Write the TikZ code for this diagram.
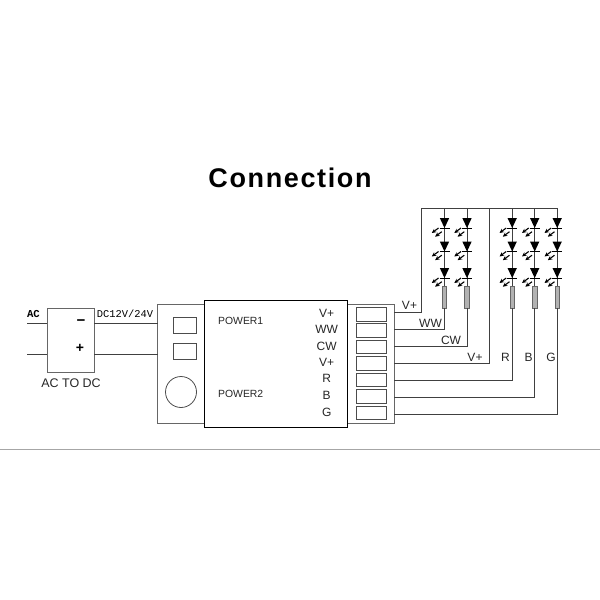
\documentclass[tikz,border=0pt]{standalone}
\usepackage{fontspec}
\setmainfont{Liberation Sans}
\newfontfamily\monofnt{Liberation Mono}
\usetikzlibrary{arrows.meta}
\tikzset{
  wire/.style={line width=.85pt,draw=black!75},
  plate/.style={draw=black!60,line width=.95pt,inner sep=0pt},
  term/.style={draw=black!70,line width=.8pt,inner sep=0pt,minimum width=30pt,minimum height=13.5pt},
  resistor/.style={draw=black!60,fill=black!30,line width=.7pt,inner sep=0pt,minimum width=4.5pt,minimum height=22pt},
  lbl/.style={inner sep=0pt,font=\fontsize{12}{12}\selectfont,text=black!85},
  pics/led/.style={code={
    \fill[black] (-4.7,0) -- (4.7,0) -- (0,10) -- cycle;
    \draw[black,line width=1pt] (-5,10.2) -- (5,10.2);
    \foreach \dx/\dy in {0/0,3.3/3.7}{
      \draw[-{Stealth[length=4.5pt,width=4.2pt]},black,line width=1.1pt] (-6+\dx,10+\dy) -- (-12.7+\dx,15+\dy);
    }
  }}
}
\begin{document}
\begin{tikzpicture}[x=1pt,y=-1pt]
   \useasboundingbox (0,0) rectangle (600,600);
   \draw[black!35,line width=.8pt] (0,449.5) -- (600,449.5);
   \node[inner sep=0pt] (title) at (290,178) {\fontsize{27}{27}\selectfont\bfseries\addfontfeature{LetterSpace=6}Connection};
   % converter
   \node[plate,minimum width=47pt,minimum height=64pt] (conv) at (70.5,340) {};
   \node[lbl,font=\fontsize{12.5}{12}\selectfont] (acdc) at (71,383) {AC TO DC};
   \node[inner sep=0pt,font=\bfseries\fontsize{15}{13}\selectfont] (minus) at (81,322.5) {\textminus};
   \node[inner sep=0pt,font=\bfseries\fontsize{14}{13}\selectfont] (plus) at (80,348) {+};
   \node[inner sep=0pt,font=\monofnt\bfseries\fontsize{10.6}{10}\selectfont] (ac) at (33.5,314) {AC};
   \node[inner sep=0pt,font=\monofnt\fontsize{10.4}{10}\selectfont] (dc) at (125,314) {DC12V/24V};
   % controller plates
   \node[plate,minimum width=47pt,minimum height=119pt] (plateL) at (181,363.5) {};
   \node[plate,minimum width=47pt,minimum height=119pt] (plateR) at (370.5,363.5) {};
   \node[draw=black,line width=.9pt,fill=white,inner sep=0pt,minimum width=143pt,minimum height=127pt] (ctrl) at (275.5,363.5) {};
   \node[term,minimum width=23pt,minimum height=16pt] (swa) at (184.5,325) {};
   \node[term,minimum width=23pt,minimum height=16pt] (swb) at (184.5,351) {};
   \node[draw=black!70,line width=.8pt,circle,inner sep=0pt,minimum size=31pt] (knob) at (181,392) {};
   \node[lbl,anchor=west,font=\fontsize{10.4}{10}\selectfont] (pwra) at (218,320.5) {POWER1};
   \node[lbl,anchor=west,font=\fontsize{10.4}{10}\selectfont] (pwrb) at (218,393.5) {POWER2};
   % terminals and their labels
   \foreach \i/\y/\t in {1/314.2/V+,2/330.5/WW,3/347/CW,4/363.5/V+,5/379.8/R,6/396.5/B,7/413/G}{
      \node[term] (t\i) at (371,\y) {};
      \node[lbl] (n\i) at (326.7,\y-1) {\t};
   }
   % free ends
   \foreach \i/\y in {1/312.7,2/329.3,3/346,4/363.3,5/380,6/397.7,7/414.7}
      \coordinate (w\i) at (394,\y);
   \coordinate (acl) at (27,323);
   \coordinate (acm) at (27,354);
   \coordinate (aci) at (47,323);
   \coordinate (acj) at (47,354);
   \coordinate (dci) at (94,323);
   \coordinate (dcj) at (94,354);
   \coordinate (dco) at (158,323);
   \coordinate (dcp) at (158,354);
   \draw[wire] (acl) -- (aci);
   \draw[wire] (acm) -- (acj);
   \draw[wire] (dci) -- (dco);
   \draw[wire] (dcj) -- (dcp);
   % led columns
   \coordinate (vl) at (421.7,208);
   \coordinate (vm) at (489.7,208);
   \foreach \i/\x in {2/444.5,3/467,5/512.2,6/534.7,7/557.2}{
      \coordinate (c\i) at (\x,208);
      \node[resistor] (r\i) at (\x,297) {};
      \draw[wire] (c\i) -- (r\i.north);
      \draw[wire] (w\i) -| (r\i.south);
      \foreach \y in {218,241.5,268}
         \pic at (\x,\y) {led};
   }
   \draw[wire] (w1) -| (vl) -- (c7);
   \draw[wire] (w4) -| (vm);
   % wire labels
   \node[lbl] (la) at (409.5,305) {V+};
   \node[lbl] (lb) at (430.5,323) {WW};
   \node[lbl] (lc) at (451,340) {CW};
   \node[lbl] (ld) at (475,357) {V+};
   \node[lbl] (le) at (505.5,357) {R};
   \node[lbl] (lf) at (528.5,357) {B};
   \node[lbl] (lg) at (551,357) {G};
\end{tikzpicture}
\end{document}
